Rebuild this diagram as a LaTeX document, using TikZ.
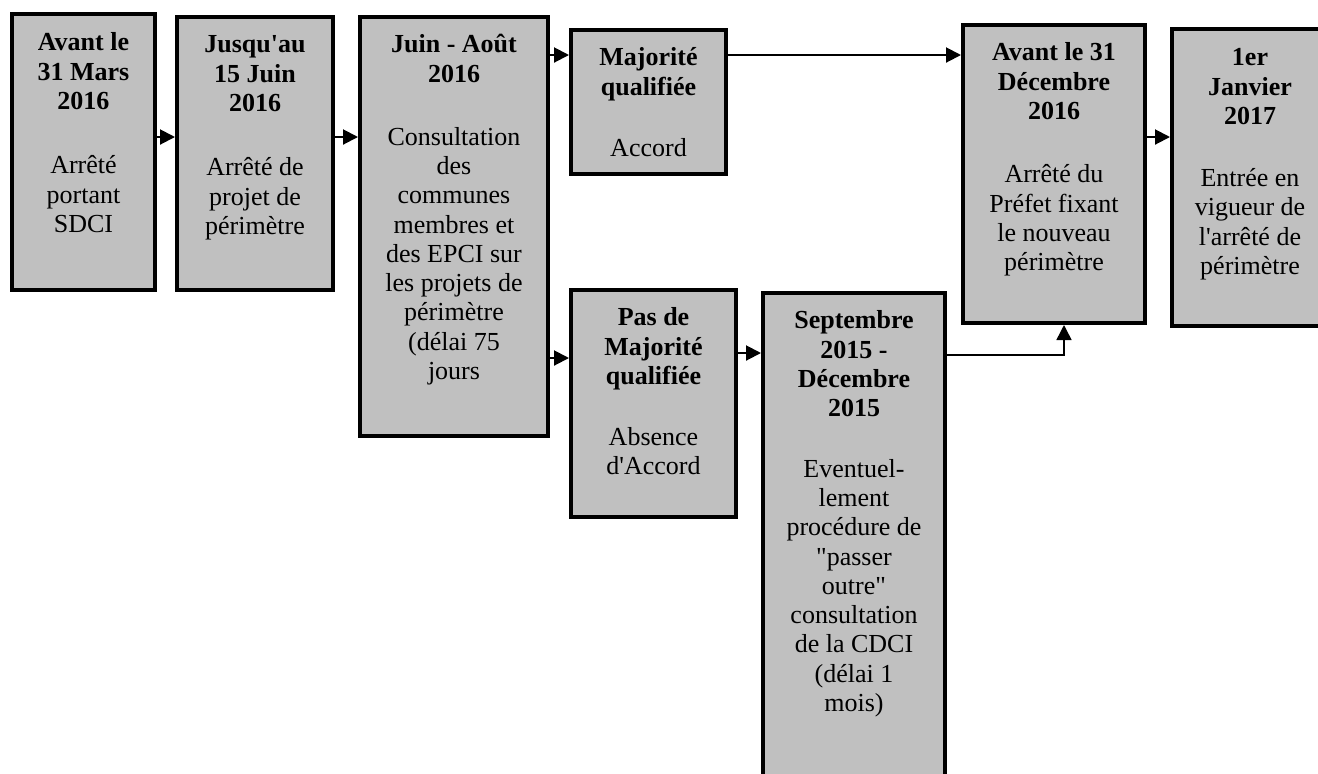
\documentclass[tikz,border=0pt]{standalone}
\usepackage{fontspec}
\newfontfamily\tnr{Liberation Serif}
\usetikzlibrary{arrows.meta,fit,calc}
\definecolor{boxgray}{RGB}{192,192,192}
\begin{document}
\begin{tikzpicture}[x=0.5pt,y=-0.5pt,
 box/.style={draw=black, line width=2pt, fill=boxgray, inner sep=0pt},
 txt/.style={anchor=north, inner sep=0pt, align=center, font=\tnr\fontsize{13pt}{14.65pt}\selectfont},
 conn/.style={line width=1pt, -{Triangle[length=7.5pt,width=7.5pt]}},
]
\useasboundingbox (0,0) rectangle (1318,773);
\clip (0,0) rectangle (1318,773);

\node[box, fit={(12,14) (155,290)}] (b1) {};
\node[box, fit={(177,17) (333,290)}] (b2) {};
\node[box, fit={(360,17) (548,436)}] (b3) {};
\node[box, fit={(571,30) (726,174)}] (b4) {};
\node[box, fit={(571,290) (736,517)}] (b5) {};
\node[box, fit={(763,293) (945,840)}] (b6) {};
\node[box, fit={(963,25) (1145,323)}] (b7) {};
\node[box, fit={(1172,29) (1335,326)}] (b8) {};

\node[txt] (t1) at ($(b1.north)+(0,14.5)$) {\rule{0pt}{12pt}\textbf{Avant le}\\\textbf{31 Mars}\\\textbf{2016}\\[17.5pt]Arrêté\\portant\\SDCI};
\node[txt] (t2) at ($(b2.north)+(0,13.5)$) {\rule{0pt}{12pt}\textbf{Jusqu'au}\\\textbf{15 Juin}\\\textbf{2016}\\[17.5pt]Arrêté de\\projet de\\périmètre};
\node[txt] (t3) at ($(b3.north)+(0,13.5)$) {\rule{0pt}{12pt}\textbf{Juin - Août}\\\textbf{2016}\\[16.8pt]Consultation\\des\\communes\\membres et\\des EPCI sur\\les projets de\\périmètre\\(délai 75\\jours};
\node[txt] (t4) at ($(b4.north)+(0,13.5)$) {\rule{0pt}{12pt}\textbf{Majorité}\\\textbf{qualifiée}\\[15.8pt]Accord};
\node[txt] (t5) at ($(b5.north)+(0,13.5)$) {\rule{0pt}{12pt}\textbf{Pas de}\\\textbf{Majorité}\\\textbf{qualifiée}\\[15.8pt]Absence\\d'Accord};
\node[txt] (t6) at ($(b6.north)+(0,13.5)$) {\rule{0pt}{12pt}\textbf{Septembre}\\\textbf{2015 -}\\\textbf{Décembre}\\\textbf{2015}\\[15.5pt]Eventuel-\\lement\\procédure de\\"passer\\outre"\\consultation\\de la CDCI\\(délai 1\\mois)};
\node[txt] (t7) at ($(b7.north)+(0,13.5)$) {\rule{0pt}{12pt}\textbf{Avant le 31}\\\textbf{Décembre}\\\textbf{2016}\\[17pt]Arrêté du\\Préfet fixant\\le nouveau\\périmètre};
\node[txt] (t8) at ($(1250,29)+(0,12.5)$) {\rule{0pt}{12pt}\textbf{1er}\\\textbf{Janvier}\\\textbf{2017}\\[16.3pt]Entrée en\\vigueur de\\l'arrêté de\\périmètre};

\coordinate (ya) at (0,137);
\coordinate (yb) at (0,55);
\coordinate (yc) at (0,358);
\coordinate (yd) at (0,353);
\coordinate (ye) at (0,355);
\coordinate (xe) at (1064,0);

\draw[conn] (b1.east |- ya) -- (b2.west |- ya);
\draw[conn] (b2.east |- ya) -- (b3.west |- ya);
\draw[conn] (b3.east |- yb) -- (b4.west |- yb);
\draw[conn] (b3.east |- yc) -- (b5.west |- yc);
\draw[conn] (b5.east |- yd) -- (b6.west |- yd);
\draw[conn] (b4.east |- yb) -- (b7.west |- yb);
\draw[conn, line width=0.75pt] (b6.east |- ye) -| (b7.south -| xe);
\draw[conn] (b7.east |- ya) -- (b8.west |- ya);
\end{tikzpicture}
\end{document}
